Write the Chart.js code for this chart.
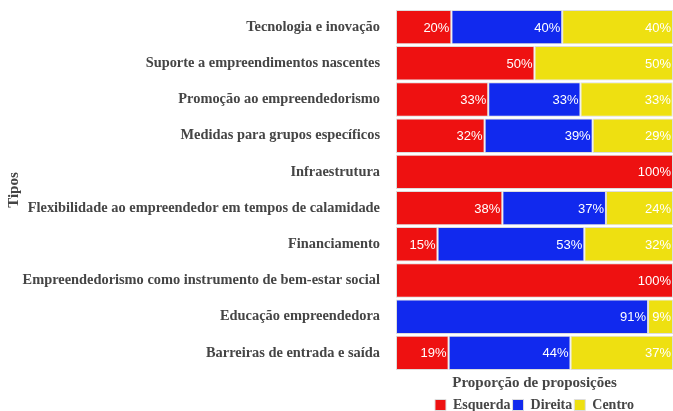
<!DOCTYPE html>
<html>
<head>
<meta charset="utf-8">
<script src="https://cdn.jsdelivr.net/npm/chart.js@4/dist/chart.umd.min.js"></script>
<style>
  html, body { margin: 0; padding: 0; background: #fff; }
  #wrap { width: 673px; height: 411px; }
</style>
</head>
<body>
<div id="wrap"><canvas id="tiposChart" width="673" height="411"></canvas></div>
<script>
// categorias (de cima para baixo)
var tipos = [
    'Tecnologia e inovação',
    'Suporte a empreendimentos nascentes',
    'Promoção ao empreendedorismo',
    'Medidas para grupos específicos',
    'Infraestrutura',
    'Flexibilidade ao empreendedor em tempos de calamidade',
    'Financiamento',
    'Empreendedorismo como instrumento de bem-estar social',
    'Educação empreendedora',
    'Barreiras de entrada e saída'
];
// proporcao (%) por espectro
var esquerda = [20, 50, 33.3, 32, 100, 38.4, 15, 100, 0, 19];
var direita  = [40, 0, 33.3, 39, 0, 37.4, 53, 0, 91, 44];
var centro   = [40, 50, 33.3, 29, 0, 24.2, 32, 0, 9, 37];

var serieNomes = ['Esquerda', 'Direita', 'Centro'];
var serieCores = ['#ee1111', '#1129ee', '#eee011'];

var serifFont = "'Liberation Serif', 'Times New Roman', serif";
var textCor = '#454545';

// escreve o % no fim de cada segmento
var rotuloPlugin = {
    id: 'rotuloPlugin',
    afterDatasetsDraw: function(chart) {
        var ctx = chart.ctx;
        ctx.save();
        ctx.font = "13px 'Liberation Sans', Arial, sans-serif";
        ctx.fillStyle = '#ffffff';
        ctx.textAlign = 'right';
        ctx.textBaseline = 'middle';
        chart.data.datasets.forEach(function(ds, i) {
            var meta = chart.getDatasetMeta(i);
            meta.data.forEach(function(bar, j) {
                var v = ds.data[j];
                if (!v) return;
                ctx.fillText(Math.round(v) + '%', bar.x - 2, bar.y + 1);
            });
        });
        ctx.restore();
    }
};

var ctx = document.getElementById('tiposChart').getContext('2d');
var chart = new Chart(ctx, {
    type: 'bar',
    data: {
        labels: tipos,
        datasets: [esquerda, direita, centro].map(function(vals, i) {
            return {
                label: serieNomes[i],
                data: vals,
                backgroundColor: serieCores[i],
                borderColor: '#dddddd',
                borderWidth: 1,
                borderSkipped: false,
                categoryPercentage: 0.95,
                barPercentage: 1.0
            };
        })
    },
    plugins: [rotuloPlugin],
    options: {
        indexAxis: 'y',
        responsive: false,
        animation: false,
        layout: { padding: { top: 9, right: 0, left: 0, bottom: -11 } },
        scales: {
            x: {
                stacked: true,
                min: 0,
                max: 100,
                grid: { display: false, drawTicks: false },
                border: { display: false },
                ticks: { display: false },
                title: {
                    display: true,
                    text: 'Proporção de proposições',
                    color: textCor,
                    font: { family: serifFont, size: 15, weight: 'bold' },
                    padding: { top: 3, bottom: 4 }
                }
            },
            y: {
                stacked: true,
                grid: { display: false, drawTicks: false },
                border: { display: false },
                ticks: {
                    color: textCor,
                    padding: 16,
                    font: { family: serifFont, size: 14.4, weight: 'bold' }
                },
                title: {
                    display: true,
                    text: 'Tipos',
                    color: textCor,
                    font: { family: serifFont, size: 15, weight: 'bold' },
                    padding: { top: 5, bottom: 0 }
                },
                afterFit: function(scale) {
                    scale.width = 396;
                    scale.paddingTop = 0;
                    scale.paddingBottom = 0;
                }
            }
        },
        plugins: {
            legend: {
                position: 'bottom',
                fullSize: false,
                labels: {
                    color: textCor,
                    boxWidth: 11,
                    boxHeight: 11,
                    padding: 2,
                    font: { family: serifFont, size: 14, weight: 'bold' }
                }
            },
            tooltip: { enabled: false }
        }
    }
});
</script>
</body>
</html>
